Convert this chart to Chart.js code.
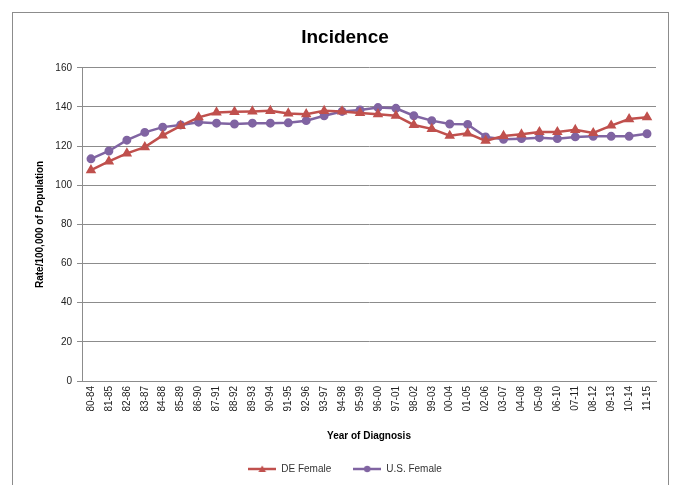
<!DOCTYPE html>
<html>
<head>
<meta charset="utf-8">
<script src="https://cdn.jsdelivr.net/npm/chart.js@4/dist/chart.umd.min.js"></script>
<style>
  html, body { margin: 0; padding: 0; background: #fff; }
  #wrap { width: 675px; height: 485px; position: relative; }
</style>
</head>
<body>
<div id="wrap"><canvas id="chart" width="675" height="485"></canvas></div>
<script>
const years = ["80-84","81-85","82-86","83-87","84-88","85-89","86-90","87-91","88-92","89-93",
  "90-94","91-95","92-96","93-97","94-98","95-99","96-00","97-01","98-02","99-03",
  "00-04","01-05","02-06","03-07","04-08","05-09","06-10","07-11","08-12","09-13","10-14","11-15"];
const deFemale = [107.7,112.2,116.3,119.5,125.5,130.3,134.7,137.2,137.5,137.7,
  138.0,136.7,136.3,138.0,137.7,136.9,136.3,135.5,130.8,128.8,
  125.3,126.5,122.7,125.2,126.0,127.2,127.2,128.3,126.7,130.5,133.8,134.7];
const usFemale = [113.5,117.5,123.0,127.0,129.7,130.8,132.2,131.7,131.3,131.7,
  131.7,131.9,133.0,135.5,137.7,138.5,139.7,139.3,135.5,133.0,
  131.3,131.1,124.7,123.5,123.8,124.3,123.8,124.7,125.0,125.0,125.0,126.3];
const yTicks = [0, 20, 40, 60, 80, 100, 120, 140, 160];

const RED = "#C0504D";
const PURPLE = "#8064A2";
const FONT = "'Liberation Sans', Arial, sans-serif";

// little legend swatch: line with the marker on it
function swatch(color, shape) {
  let c = document.createElement("canvas");
  c.width = 28; c.height = 10;
  let g = c.getContext("2d");
  g.strokeStyle = color; g.lineWidth = 2.5;
  g.beginPath(); g.moveTo(0, 5); g.lineTo(28, 5); g.stroke();
  g.fillStyle = color;
  g.beginPath();
  if (shape === "triangle") {
    g.moveTo(14, 1.5); g.lineTo(17.8, 8); g.lineTo(10.2, 8); g.closePath();
  } else {
    g.arc(14, 5, 3.2, 0, Math.PI * 2);
  }
  g.fill();
  return c;
}

const frame = {
  id: "frame",
  beforeDraw(chart) {
    let ctx = chart.ctx;
    ctx.save();
    ctx.strokeStyle = "#8c8c8c";
    ctx.lineWidth = 1;
    ctx.strokeRect(12.5, 12.5, 656, 490);
    ctx.restore();
  }
};

new Chart(document.getElementById("chart"), {
  type: "line",
  data: {
    labels: years,
    datasets: [
      {
        label: "DE Female",
        data: deFemale,
        borderColor: RED,
        backgroundColor: RED,
        borderWidth: 2.5,
        pointStyle: "triangle",
        pointRadius: 3.6,
        tension: 0,
        legendSwatch: swatch(RED, "triangle")
      },
      {
        label: "U.S. Female",
        data: usFemale,
        borderColor: PURPLE,
        backgroundColor: PURPLE,
        borderWidth: 2.5,
        pointStyle: "circle",
        pointRadius: 3.2,
        tension: 0,
        legendSwatch: swatch(PURPLE, "circle")
      }
    ]
  },
  options: {
    responsive: false,
    animation: false,
    layout: { padding: { top: 20, left: 34, right: 19, bottom: 1 } },
    plugins: {
      tooltip: { enabled: false },
      title: {
        display: true,
        text: "Incidence",
        color: "#000",
        font: { family: FONT, size: 19, weight: "bold" },
        padding: { top: 6, bottom: 19 }
      },
      legend: {
        position: "bottom",
        labels: {
          usePointStyle: true,
          pointStyleWidth: 28,
          color: "#333",
          font: { family: FONT, size: 10 },
          padding: 22,
          generateLabels(chart) {
            return chart.data.datasets.map((ds, i) => ({
              text: ds.label,
              fillStyle: ds.borderColor,
              strokeStyle: ds.borderColor,
              fontColor: "#333",
              lineWidth: 0,
              pointStyle: ds.legendSwatch,
              datasetIndex: i,
              hidden: false
            }));
          }
        }
      }
    },
    scales: {
      x: {
        offset: true,
        grid: { display: false, drawTicks: false },
        border: { color: "#8c8c8c", width: 1 },
        ticks: {
          color: "#222",
          font: { family: FONT, size: 10 },
          maxRotation: 90,
          minRotation: 90,
          autoSkip: false,
          padding: 5
        },
        title: {
          display: true,
          text: "Year of Diagnosis",
          color: "#000",
          font: { family: FONT, size: 10, weight: "bold" },
          padding: { top: 2, bottom: 0 }
        },
        afterFit(scale) { scale.height = 61; }
      },
      y: {
        min: 0,
        max: 160,
        afterBuildTicks(scale) { scale.ticks = yTicks.map(v => ({ value: v })); },
        grid: { color: "#8c8c8c", lineWidth: 1, tickLength: 5 },
        border: { color: "#8c8c8c", width: 1 },
        ticks: {
          color: "#222",
          font: { family: FONT, size: 10 },
          padding: 5
        },
        title: {
          display: true,
          text: "Rate/100,000 of Population",
          color: "#000",
          font: { family: FONT, size: 10, weight: "bold" },
          padding: { top: 0, bottom: 4 }
        },
        afterFit(scale) { scale.width = 48; }
      }
    }
  },
  plugins: [frame]
});
</script>
</body>
</html>
